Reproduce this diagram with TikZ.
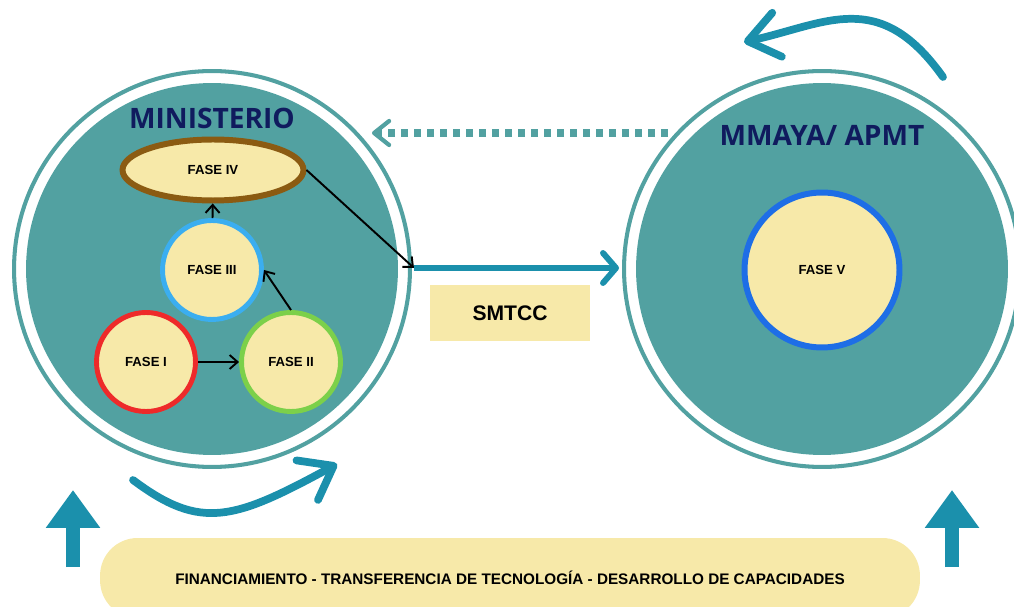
\documentclass[tikz,border=0pt]{standalone}
\usepackage{fontspec}
\setmainfont{Liberation Sans}
\newfontfamily\headfont{Open Sans}
\usetikzlibrary{arrows.meta,shapes.geometric}

\definecolor{disccol}{HTML}{52A1A1}
\definecolor{flowcol}{HTML}{1B90AC}
\definecolor{boxcol}{HTML}{F7E9A9}
\definecolor{headcol}{HTML}{101B5E}
\definecolor{faseIcol}{HTML}{EE2A2A}
\definecolor{faseIIcol}{HTML}{7CD04A}
\definecolor{faseIIIcol}{HTML}{3BAEF0}
\definecolor{faseIVcol}{HTML}{8B5B12}
\definecolor{faseVcol}{HTML}{1E6EE6}

\tikzset{
  disc/.style={circle, fill=disccol, minimum size=7.44cm, inner sep=0pt},
  ring/.style={draw=disccol, line width=2.3pt},
  fase/.style={circle, fill=boxcol, line width=2.8pt, minimum size=1.98cm, inner sep=0pt,
    font=\bfseries\fontsize{7.5}{9}\selectfont},
  heading/.style={text=headcol, font=\headfont\bfseries\fontsize{16}{18}\selectfont},
  link/.style={-{Straight Barb[length=1.6mm,width=2.8mm]}, line width=1.1pt},
  flow/.style={draw=flowcol, line width=3.4pt, -{Straight Barb[length=2.6mm,width=6mm,round]}},
  back/.style={draw=disccol, line width=4pt, dash pattern=on 0.14cm off 0.12cm,
    -{Straight Barb[length=3mm,width=4.8mm,round,line width=2.4pt]}},
  swirl/.style={draw=flowcol, line width=4.4pt, line cap=round,
    -{Straight Barb[length=6mm,width=9mm,round]}},
  lift/.style={draw=flowcol, line width=0.28cm, -{Triangle[length=0.76cm,width=1.04cm]}},
  tag/.style={fill=boxcol, font=\bfseries\fontsize{12}{14}\selectfont}
}

\begin{document}
\begin{tikzpicture}[x=0.02cm,y=-0.02cm]
  \useasboundingbox (0,0) rectangle (1014,607);

  % retorno punteado
  \coordinate (backstart) at (668,133);
  \coordinate (backend) at (372,133);
  \draw[back] (backstart) -- (backend);

  % los dos circulos
  \node[disc] (ministerio) at (212,269) {};
  \draw[ring] (ministerio.center) circle[radius=3.96cm];
  \node[disc] (mmaya) at (822,269) {};
  \draw[ring] (mmaya.center) circle[radius=3.96cm];

  \node[heading] (ministeriotitle) at (212,118) {MINISTERIO};
  \node[heading] (mmayatitle) at (822,135) {MMAYA/ APMT};

  % fases
  \node[ellipse, fill=boxcol, draw=faseIVcol, line width=3.4pt, minimum width=3.62cm,
    minimum height=1.22cm, inner sep=0pt, font=\bfseries\fontsize{7.5}{9}\selectfont]
    (faseIV) at (213,170) {FASE IV};
  \node[fase, draw=faseIIIcol] (faseIII) at (212,270) {FASE III};
  \node[fase, draw=faseIcol] (faseI) at (146,362) {FASE I};
  \node[fase, draw=faseIIcol] (faseII) at (291,362) {FASE II};
  \node[fase, draw=faseVcol, line width=3.4pt, minimum size=3.1cm] (faseV) at (822,270) {FASE V};

  \draw[link] (faseI) -- (faseII);
  \draw[link] (faseII.north) -- (faseIII.east);
  \draw[link] (faseIII) -- (faseIV);

  % salida hacia MMAYA
  \coordinate (send) at (414,268);
  \coordinate (receive) at (619,268);
  \draw[link] (faseIV.east) -- (send);
  \draw[flow] (send) -- (receive);
  \node[tag, minimum width=3.2cm, minimum height=1.14cm] (smtcc) at (510,313) {SMTCC};

  % flechas curvas
  \coordinate (swirlRa) at (943,77);
  \coordinate (swirlRb) at (744,42);
  \draw[swirl] (swirlRa) .. controls (879,-13) and (826,24) .. (swirlRb);
  \coordinate (swirlLa) at (133,480);
  \coordinate (swirlLb) at (337,464);
  \draw[swirl] (swirlLa) .. controls (201,531) and (234,520) .. (swirlLb);

  % soporte
  \node[fill=boxcol, rounded corners=0.75cm, minimum width=16.4cm, minimum height=1.6cm,
    font=\bfseries\fontsize{8.7}{10}\selectfont]
    (support) at (510,578) {FINANCIAMIENTO - TRANSFERENCIA DE TECNOLOGÍA - DESARROLLO DE CAPACIDADES};
  \coordinate (liftLbase) at (73,567);
  \coordinate (liftLtip) at (73,490);
  \coordinate (liftRbase) at (952,567);
  \coordinate (liftRtip) at (952,490);
  \draw[lift] (liftLbase) -- (liftLtip);
  \draw[lift] (liftRbase) -- (liftRtip);
\end{tikzpicture}
\end{document}
